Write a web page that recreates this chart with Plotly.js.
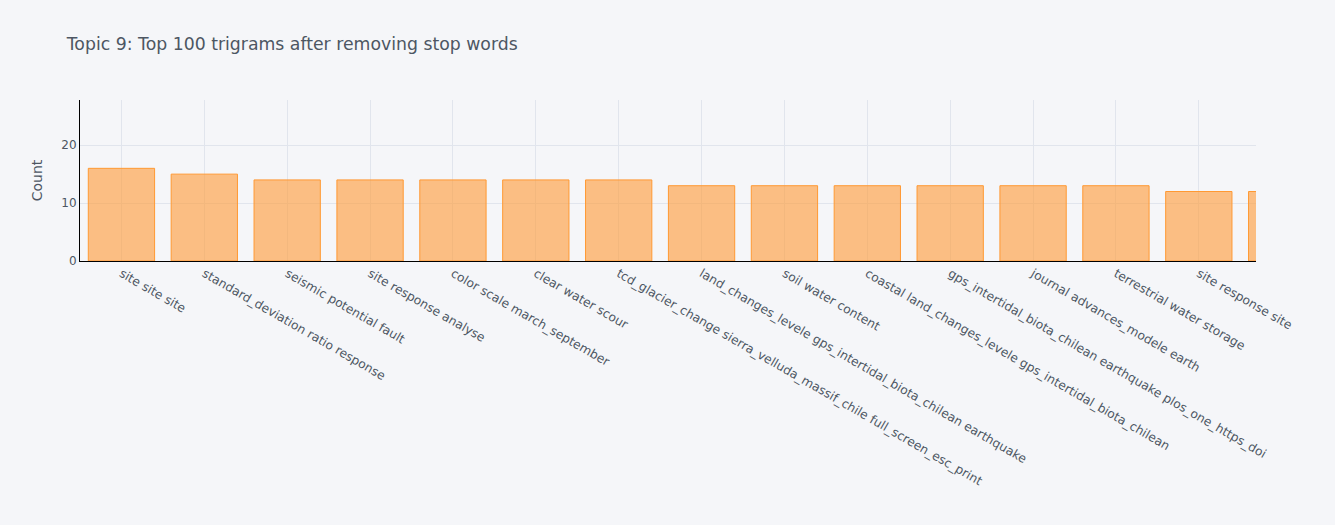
<!DOCTYPE html>
<html>
<head>
<meta charset="utf-8">
<script src="https://cdn.plot.ly/plotly-3.0.1.min.js"></script>
<style>html,body{margin:0;padding:0;background:#F5F6F9;}</style>
</head>
<body>
<div id="chart" style="width:1335px;height:525px;"></div>
<script>
var trigrams = [
  "site site site",
  "standard_deviation ratio response",
  "seismic potential fault",
  "site response analyse",
  "color scale march_september",
  "clear water scour",
  "tcd_glacier_change sierra_velluda_massif_chile full_screen_esc_print",
  "land_changes_levele gps_intertidal_biota_chilean earthquake",
  "soil water content",
  "coastal land_changes_levele gps_intertidal_biota_chilean",
  "gps_intertidal_biota_chilean earthquake plos_one_https_doi",
  "journal advances_modele earth",
  "terrestrial water storage",
  "site response site",
  "site response ratio"
];
var counts = [16, 15, 14, 14, 14, 14, 14, 13, 13, 13, 13, 13, 13, 12, 12];

var trace = {
  type: "bar",
  x: trigrams,
  y: counts,
  name: "Count",
  marker: {
    color: "rgba(255, 153, 51, 0.6)",
    line: {color: "rgba(255, 153, 51, 1.0)", width: 1}
  }
};

var layout = {
  width: 1335,
  height: 525,
  paper_bgcolor: "#F5F6F9",
  plot_bgcolor: "#F5F6F9",
  font: {family: "Verdana, 'DejaVu Sans', sans-serif", color: "#4D5663", size: 12},
  title: {text: "Topic 9: Top 100 trigrams after removing stop words", font: {family: "Verdana, 'DejaVu Sans', sans-serif", color: "#4D5663", size: 17.3}, x: 0.05},
  margin: {l: 80, r: 79, t: 100, b: 264},
  showlegend: false,
  bargap: 0.2,
  xaxis: {
    type: "category",
    range: [-0.5, 13.69],
    tickangle: 30,
    showgrid: true,
    gridcolor: "#E1E5ED",
    tickfont: {color: "#4D5663", size: 12.25},
    showline: true,
    linecolor: "#000000",
    zeroline: false,
    automargin: false
  },
  yaxis: {
    range: [0, 27.8],
    dtick: 10,
    title: {text: "Count", font: {color: "#4D5663", size: 14}},
    showgrid: true,
    gridcolor: "#E1E5ED",
    tickfont: {color: "#4D5663", size: 12},
    showline: true,
    linecolor: "#000000",
    zeroline: false,
    automargin: false
  }
};

Plotly.newPlot("chart", [trace], layout, {displayModeBar: false});
</script>
</body>
</html>
